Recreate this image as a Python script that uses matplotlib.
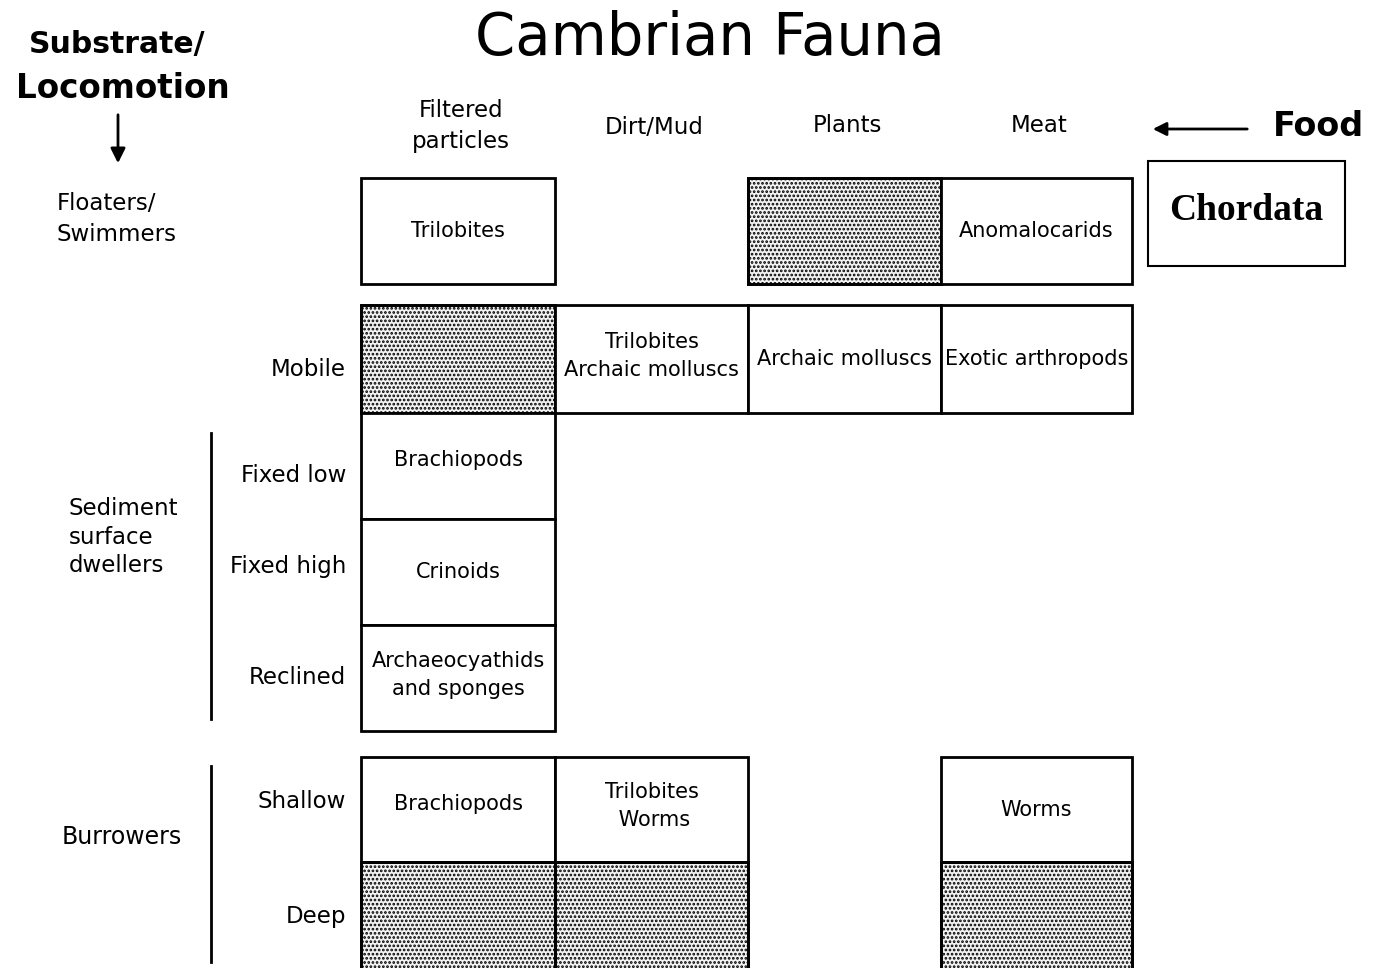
import matplotlib.pyplot as plt
from matplotlib.patches import Rectangle
import matplotlib as mpl

# food columns and substrate rows
food = ["Filtered\nparticles", "Dirt/Mud", "Plants", "Meat"]
habits = ["Floaters/\nSwimmers", "Mobile", "Fixed low", "Fixed high",
          "Reclined", "Shallow", "Deep"]
groups = ["Sediment\nsurface\ndwellers", "Burrowers"]

# (row, col, label, shaded)
cells = [
    (0, 0, "Trilobites", False),
    (0, 2, "", True),
    (0, 3, "Anomalocarids", False),
    (1, 0, "", True),
    (1, 1, "Trilobites\nArchaic molluscs", False),
    (1, 2, "Archaic molluscs", False),
    (1, 3, "Exotic arthropods", False),
    (2, 0, "Brachiopods", False),
    (3, 0, "Crinoids", False),
    (4, 0, "Archaeocyathids\nand sponges", False),
    (5, 0, "Brachiopods", False),
    (5, 1, "Trilobites\n Worms", False),
    (5, 3, "Worms", False),
    (6, 0, "", True),
    (6, 1, "", True),
    (6, 3, "", True),
]

# layout (pixels)
W, H = 1379, 968
col_x = [361, 555, 748, 941, 1132]
row_y = [(178, 284), (305, 413), (413, 519), (519, 625), (625, 731),
         (757, 862), (862, 980)]

mpl.rcParams['hatch.linewidth'] = 1.3
mpl.rcParams['hatch.color'] = '#555555'
fig = plt.figure(figsize=(W / 100, H / 100), dpi=100)
ax = fig.add_axes([0, 0, 1, 1])
ax.set_xlim(0, W)
ax.set_ylim(H, 0)
ax.axis('off')

font = 'DejaVu Sans'

for r, c, label, shaded in cells:
    y0, y1 = row_y[r]
    x0, x1 = col_x[c], col_x[c + 1]
    if shaded:
        ax.add_patch(Rectangle((x0, y0), x1 - x0, y1 - y0, facecolor='#f2f2f2',
                               edgecolor='black', hatch='....', lw=2))
        ax.add_patch(Rectangle((x0, y0), x1 - x0, y1 - y0, facecolor='none',
                               edgecolor='black', lw=2))
    else:
        ax.add_patch(Rectangle((x0, y0), x1 - x0, y1 - y0, facecolor='white',
                               edgecolor='black', lw=2))
    if label:
        yt = (y0 + y1) / 2
        if r in (2, 5) and c == 0:
            yt -= 6
        elif '\n' in label:
            yt -= 3
        ax.text((x0 + x1) / 2, yt, label, ha='center', va='center',
                fontsize=15, family=font, linespacing=1.5)

# column headers
head_y = [126, 128, 126, 126]
for i, lab in enumerate(food):
    ax.text((col_x[i] + col_x[i + 1]) / 2 + 3, head_y[i], lab, ha='center', va='center',
            fontsize=16.5, family=font, linespacing=1.42)

# row labels
ax.text(57, 219, habits[0], ha='left', va='center', fontsize=16.5, family=font,
        linespacing=1.42)
label_y = [None, 369, 475, 567, 678, 802, 916]
for i in range(1, len(habits)):
    ax.text(346, label_y[i], habits[i], ha='right', va='center', fontsize=16.5,
            family=font)

ax.text(69, 537, groups[0], ha='left', va='center', fontsize=16.5, family=font,
        linespacing=1.33)
ax.text(122, 837, groups[1], ha='center', va='center', fontsize=17, family=font)

# brackets
ax.plot([211, 211], [433, 719], color='black', lw=2)
ax.plot([211, 211], [766, 962], color='black', lw=2)

# titles
ax.text(710, 39, "Cambrian Fauna", ha='center', va='center', fontsize=41.5, family=font)
ax.text(117, 45, "Substrate/", ha='center', va='center', fontsize=21.5,
        family=font, weight='bold')
ax.text(123, 88, "Locomotion", ha='center', va='center', fontsize=23.5,
        family=font, weight='bold')
ax.annotate("", xy=(118, 166), xytext=(118, 112),
            arrowprops=dict(arrowstyle='-|>', color='black', lw=2, mutation_scale=22))

ax.text(1318, 127, "Food", ha='center', va='center', fontsize=24,
        family=font, weight='bold')
ax.annotate("", xy=(1150, 129), xytext=(1250, 129),
            arrowprops=dict(arrowstyle='-|>', color='black', lw=2, mutation_scale=20))

# chordata box
ax.add_patch(Rectangle((1148, 161), 197, 105, facecolor='white', edgecolor='black', lw=1.5))
ax.text(1246, 210, "Chordata", ha='center', va='center', fontsize=27,
        family='Liberation Serif', weight='bold')

fig.savefig('out.png', dpi=100)
